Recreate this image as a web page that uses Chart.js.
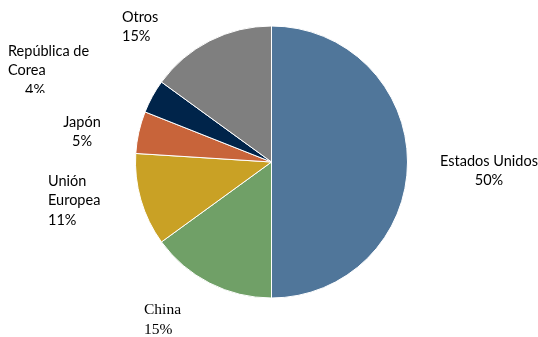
<!DOCTYPE html>
<html><head><meta charset="utf-8">
<script src="https://cdn.jsdelivr.net/npm/chart.js@4"></script>
<style>html,body{margin:0;padding:0;background:#fff}#wrap{width:538px;height:337px}</style>
</head><body><div id="wrap"><canvas id="c" width="538" height="337"></canvas></div>
<script>
const categories = ['Estados Unidos', 'China', 'Unión Europea', 'Japón', 'República de Corea', 'Otros'];
const shares = [50, 15, 11, 5, 4, 15];
const colors = ['#50769A', '#70A067', '#C9A125', '#C8643A', '#00244A', '#7F7F7F'];
// label text lines and placement (style only)
const labelLines = [['Estados Unidos', '50%'], ['China', '15%'], ['Unión', 'Europea', '11%'], ['Japón', '5%'], ['República de', 'Corea', '4%'], ['Otros', '15%']];
const labelPos = [
  {x: 489, y: 161, align: 'center', font: '14.5px Lato'},
  {x: 144, y: 310, align: 'left', font: '15.5px "Liberation Serif"'},
  {x: 48, y: 181, align: 'left', font: '14.5px Lato'},
  {x: 82, y: 122, align: 'center', font: '14.5px Lato'},
  {x: 8, y: 51, align: 'left', font: '14.5px Lato', clipY: 93},
  {x: 122, y: 17, align: 'left', font: '14.5px Lato'}
];
const labelPlugin = {
  id: 'labels',
  afterDraw(chart) {
    const ctx = chart.ctx;
    labelLines.forEach((lines, i) => {
      const p = labelPos[i];
      ctx.save();
      if (p.clipY) { ctx.beginPath(); ctx.rect(0, 0, 538, p.clipY); ctx.clip(); }
      ctx.font = p.font;
      ctx.fillStyle = '#000';
      ctx.textBaseline = 'middle';
      ctx.textAlign = p.align;
      lines.forEach((t, j) => {
        let x = p.x;
        if (i === 4 && j === 2) { ctx.textAlign = 'center'; x = 35; }
        ctx.fillText(t, x, p.y + j * 19.5);
      });
      ctx.restore();
    });
  }
};
new Chart(document.getElementById('c'), {
  type: 'pie',
  data: { labels: categories, datasets: [{ data: shares, backgroundColor: colors, borderColor: '#ffffff', borderWidth: 1 }] },
  options: {
    responsive: false, animation: false,
    layout: { padding: { top: 25, bottom: 38, left: 135, right: 130 } },
    plugins: { legend: { display: false }, tooltip: { enabled: false } }
  },
  plugins: [labelPlugin]
});
</script></body></html>
